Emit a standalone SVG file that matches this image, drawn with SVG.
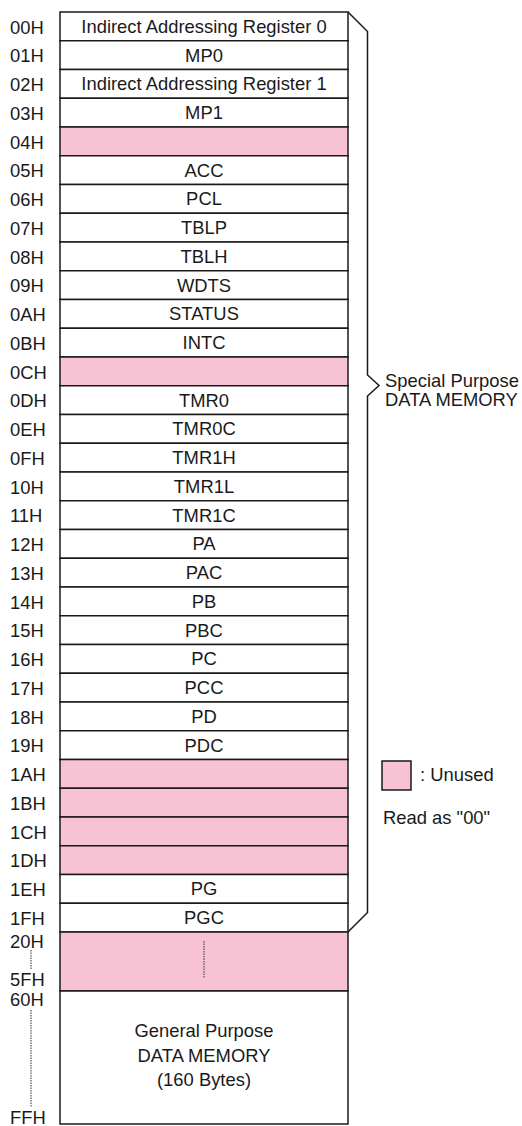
<svg xmlns="http://www.w3.org/2000/svg" width="522" height="1126" viewBox="0 0 522 1126">
<style>
text{font-family:"Liberation Sans",Arial,sans-serif;font-size:18.4px;fill:#1a1a1a}
.c{text-anchor:middle}
.r{fill:#fff;stroke:#1a1a1a;stroke-width:1.5}
.u{fill:#f6c2d4;stroke:#1a1a1a;stroke-width:1.5}
.br{fill:none;stroke:#1a1a1a;stroke-width:1.5;stroke-linejoin:miter}
.dot{stroke:#333;stroke-width:1;stroke-dasharray:1.5 1}
</style>
<rect width="522" height="1126" fill="#fff"/>
<g id="r00"><rect class="r" x="60" y="12" width="288" height="28.75"/><text x="10" y="33.5">00H</text><text class="c" x="204" y="32.9">Indirect Addressing Register 0</text></g>
<g id="r01"><rect class="r" x="60" y="40.75" width="288" height="28.75"/><text x="10" y="62.2">01H</text><text class="c" x="204" y="61.65">MP0</text></g>
<g id="r02"><rect class="r" x="60" y="69.5" width="288" height="28.75"/><text x="10" y="91">02H</text><text class="c" x="204" y="90.4">Indirect Addressing Register 1</text></g>
<g id="r03"><rect class="r" x="60" y="98.25" width="288" height="28.75"/><text x="10" y="119.7">03H</text><text class="c" x="204" y="119.15">MP1</text></g>
<g id="r04"><rect class="u" x="60" y="127" width="288" height="28.75"/><text x="10" y="148.5">04H</text></g>
<g id="r05"><rect class="r" x="60" y="155.75" width="288" height="28.75"/><text x="10" y="177.2">05H</text><text class="c" x="204" y="176.65">ACC</text></g>
<g id="r06"><rect class="r" x="60" y="184.5" width="288" height="28.75"/><text x="10" y="206">06H</text><text class="c" x="204" y="205.4">PCL</text></g>
<g id="r07"><rect class="r" x="60" y="213.25" width="288" height="28.75"/><text x="10" y="234.7">07H</text><text class="c" x="204" y="234.15">TBLP</text></g>
<g id="r08"><rect class="r" x="60" y="242" width="288" height="28.75"/><text x="10" y="263.5">08H</text><text class="c" x="204" y="262.9">TBLH</text></g>
<g id="r09"><rect class="r" x="60" y="270.75" width="288" height="28.75"/><text x="10" y="292.2">09H</text><text class="c" x="204" y="291.65">WDTS</text></g>
<g id="r0A"><rect class="r" x="60" y="299.5" width="288" height="28.75"/><text x="10" y="321">0AH</text><text class="c" x="204" y="320.4">STATUS</text></g>
<g id="r0B"><rect class="r" x="60" y="328.25" width="288" height="28.75"/><text x="10" y="349.7">0BH</text><text class="c" x="204" y="349.15">INTC</text></g>
<g id="r0C"><rect class="u" x="60" y="357" width="288" height="28.75"/><text x="10" y="378.5">0CH</text></g>
<g id="r0D"><rect class="r" x="60" y="385.75" width="288" height="28.75"/><text x="10" y="407.2">0DH</text><text class="c" x="204" y="406.65">TMR0</text></g>
<g id="r0E"><rect class="r" x="60" y="414.5" width="288" height="28.75"/><text x="10" y="436">0EH</text><text class="c" x="204" y="435.4">TMR0C</text></g>
<g id="r0F"><rect class="r" x="60" y="443.25" width="288" height="28.75"/><text x="10" y="464.7">0FH</text><text class="c" x="204" y="464.15">TMR1H</text></g>
<g id="r10"><rect class="r" x="60" y="472" width="288" height="28.75"/><text x="10" y="493.5">10H</text><text class="c" x="204" y="492.9">TMR1L</text></g>
<g id="r11"><rect class="r" x="60" y="500.75" width="288" height="28.75"/><text x="10" y="522.2">11H</text><text class="c" x="204" y="521.65">TMR1C</text></g>
<g id="r12"><rect class="r" x="60" y="529.5" width="288" height="28.75"/><text x="10" y="551">12H</text><text class="c" x="204" y="550.4">PA</text></g>
<g id="r13"><rect class="r" x="60" y="558.25" width="288" height="28.75"/><text x="10" y="579.7">13H</text><text class="c" x="204" y="579.15">PAC</text></g>
<g id="r14"><rect class="r" x="60" y="587" width="288" height="28.75"/><text x="10" y="608.5">14H</text><text class="c" x="204" y="607.9">PB</text></g>
<g id="r15"><rect class="r" x="60" y="615.75" width="288" height="28.75"/><text x="10" y="637.2">15H</text><text class="c" x="204" y="636.65">PBC</text></g>
<g id="r16"><rect class="r" x="60" y="644.5" width="288" height="28.75"/><text x="10" y="666">16H</text><text class="c" x="204" y="665.4">PC</text></g>
<g id="r17"><rect class="r" x="60" y="673.25" width="288" height="28.75"/><text x="10" y="694.7">17H</text><text class="c" x="204" y="694.15">PCC</text></g>
<g id="r18"><rect class="r" x="60" y="702" width="288" height="28.75"/><text x="10" y="723.5">18H</text><text class="c" x="204" y="722.9">PD</text></g>
<g id="r19"><rect class="r" x="60" y="730.75" width="288" height="28.75"/><text x="10" y="752.2">19H</text><text class="c" x="204" y="751.65">PDC</text></g>
<g id="r1A"><rect class="u" x="60" y="759.5" width="288" height="28.75"/><text x="10" y="781">1AH</text></g>
<g id="r1B"><rect class="u" x="60" y="788.25" width="288" height="28.75"/><text x="10" y="809.7">1BH</text></g>
<g id="r1C"><rect class="u" x="60" y="817" width="288" height="28.75"/><text x="10" y="838.5">1CH</text></g>
<g id="r1D"><rect class="u" x="60" y="845.75" width="288" height="28.75"/><text x="10" y="867.2">1DH</text></g>
<g id="r1E"><rect class="r" x="60" y="874.5" width="288" height="28.75"/><text x="10" y="896">1EH</text><text class="c" x="204" y="895.4">PG</text></g>
<g id="r1F"><rect class="r" x="60" y="903.25" width="288" height="28.75"/><text x="10" y="924.7">1FH</text><text class="c" x="204" y="924.15">PGC</text></g>
<g id="r20"><rect class="u" x="60" y="932" width="288" height="59"/><text x="10" y="948">20H</text><text x="10" y="986">5FH</text><line class="dot" x1="31" y1="950" x2="31" y2="970"/><line class="dot" x1="204" y1="941" x2="204" y2="978"/></g>
<g id="r60"><rect class="r" x="60" y="991" width="288" height="133"/><text x="10" y="1005.5">60H</text><text x="10" y="1124">FFH</text><line class="dot" x1="31" y1="1010" x2="31" y2="1107"/><text class="c" x="204" y="1037">General Purpose</text><text class="c" x="204" y="1061.5">DATA MEMORY</text><text class="c" x="204" y="1085.5">(160 Bytes)</text></g>
<g id="connectors"><path class="br" d="M348,12 L367.5,31.5 L367.5,375 L379,385.5 L367.5,396 L367.5,912.5 L348,932"/></g>
<g id="special"><text x="385" y="386.5">Special Purpose</text><text x="385" y="406">DATA MEMORY</text></g>
<g id="legend"><rect class="u" x="382" y="761" width="29" height="29"/><text x="420" y="781">: Unused</text><text x="383" y="824">Read as "00"</text></g>
</svg>
